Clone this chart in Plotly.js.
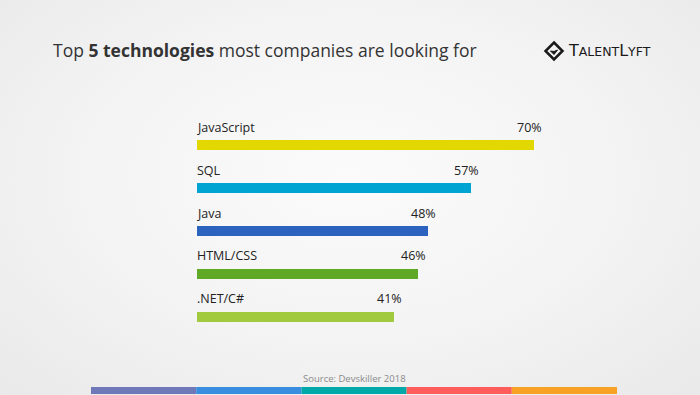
<!DOCTYPE html>
<html><head><meta charset="utf-8">
<script src="https://cdn.plot.ly/plotly-3.0.1.min.js"></script>
<style>
html,body{margin:0;padding:0;}
body{width:700px;height:395px;background:radial-gradient(ellipse at 50% 45%, #fbfbfb 0%, #f3f3f3 55%, #e9e9e9 100%);}
#chart{width:700px;height:395px;}
</style></head>
<body><div id="chart"></div>
<script>
const technologies = ["JavaScript", "SQL", "Java", "HTML/CSS", ".NET/C#"];
const shares = [70, 57, 48, 46, 41];
const barColors = ["#e2d800", "#00a4d3", "#2b63be", "#5fa927", "#a2ca3e"];
const bandColors = ["#6f79b7", "#3a8ee0", "#00a9a9", "#ff5c5c", "#f7a224"];

const W = 700, H = 395;
const M = {l: 197, r: 22, t: 124, b: 57};
const pw = W - M.l - M.r, ph = H - M.t - M.b;
const px = x => (x - M.l) / pw;
const py = y => (H - M.b - y) / ph;

const shapes = [];
for (let i = 0; i < bandColors.length; i++) {
  shapes.push({type: "rect", xref: "paper", yref: "paper",
    x0: px(91 + i * 105.2), x1: px(91 + (i + 1) * 105.2),
    y0: py(394), y1: py(387), line: {width: 0}, fillcolor: bandColors[i]});
}
const cx = 554, cy = 51, r = 8.5;
shapes.push({type: "path", xref: "paper", yref: "paper",
  path: `M ${px(cx)},${py(cy - r)} L ${px(cx + r)},${py(cy)} L ${px(cx)},${py(cy + r)} L ${px(cx - r)},${py(cy)} Z`,
  line: {color: "#1a1a1a", width: 2.5}, fillcolor: "rgba(0,0,0,0)"});
shapes.push({type: "path", xref: "paper", yref: "paper",
  path: `M ${px(cx - 3.5)},${py(cy)} L ${px(cx)},${py(cy + 3.5)} L ${px(cx + 3.5)},${py(cy - 1)} L ${px(cx)},${py(cy + 0.5)} Z`,
  line: {color: "#1a1a1a", width: 1}, fillcolor: "#1a1a1a"});

const labelFont = {family: "Open Sans", size: 12.5, color: "#222222"};
const annotations = [];
technologies.forEach((t, i) => {
  annotations.push({x: 0, y: t, xref: "x", yref: "y", text: t, showarrow: false,
    xanchor: "left", yanchor: "middle", yshift: 18, xshift: -2, font: labelFont});
  annotations.push({x: shares[i], y: t, xref: "x", yref: "y", text: shares[i] + "%", showarrow: false,
    xanchor: "right", yanchor: "middle", yshift: 18, xshift: 10, font: labelFont});
});
annotations.push({xref: "paper", yref: "paper", x: px(354), y: py(378), xanchor: "center", yanchor: "middle",
  text: "Source: Devskiller 2018", showarrow: false,
  font: {family: "Open Sans", size: 9.5, color: "#8a8a8a"}});
annotations.push({xref: "paper", yref: "paper", x: px(566), y: py(51), xanchor: "left", yanchor: "middle",
  text: "T<span style='font-size:12.5px'>ALENT</span>L<span style='font-size:12.5px'>YFT</span>", showarrow: false,
  font: {family: "DejaVu Sans", size: 16, color: "#1a1a1a"}});

const data = [{
  type: "bar", orientation: "h", y: technologies, x: shares,
  marker: {color: barColors, line: {width: 0}}, width: 0.235,
  hoverinfo: "none", textposition: "none"
}];

const layout = {
  width: W, height: H,
  margin: M,
  paper_bgcolor: "rgba(0,0,0,0)", plot_bgcolor: "rgba(0,0,0,0)",
  title: {text: "Top <b>5 technologies</b> most companies are looking for",
    xref: "container", yref: "container", x: 53 / W, y: 1 - 51 / H,
    xanchor: "left", yanchor: "middle",
    font: {family: "Open Sans", size: 17.5, color: "#333333"}},
  xaxis: {range: [0, 100], visible: false, showgrid: false, zeroline: false, fixedrange: true},
  yaxis: {type: "category", categoryorder: "array", categoryarray: technologies,
    range: [4.5, -0.5], visible: false, showgrid: false, zeroline: false, fixedrange: true},
  showlegend: false, bargap: 0,
  shapes: shapes, annotations: annotations
};
Plotly.newPlot("chart", data, layout, {displayModeBar: false, staticPlot: true});
</script></body></html>
